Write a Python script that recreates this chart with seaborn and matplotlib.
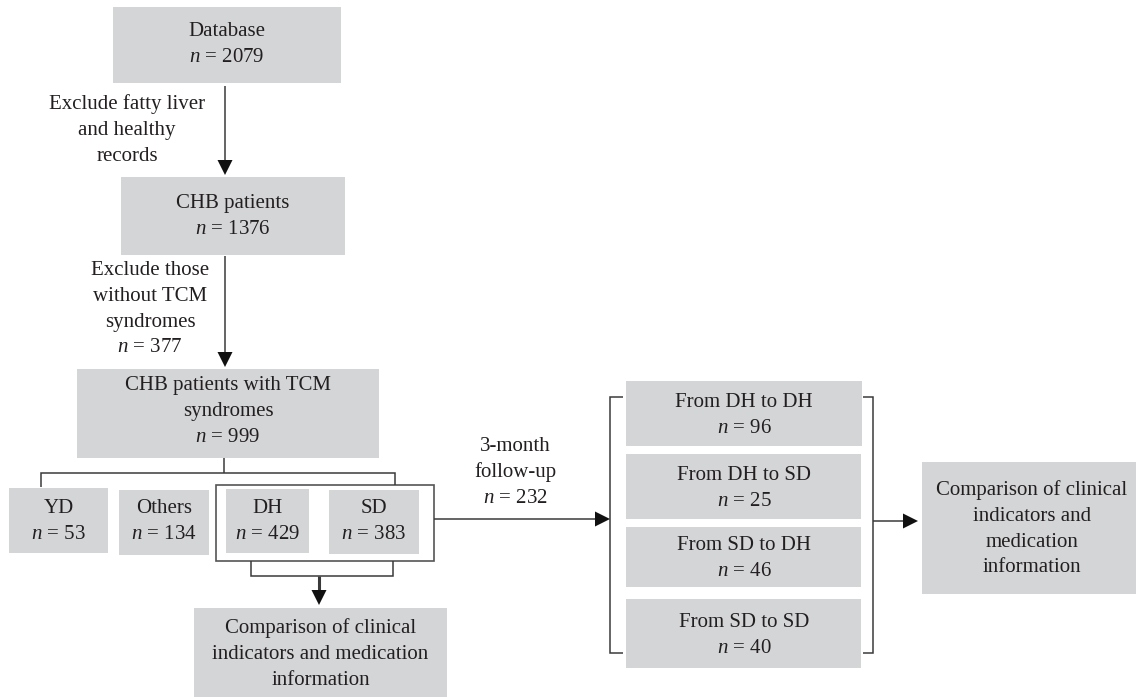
import matplotlib
matplotlib.use("Agg")
import matplotlib.pyplot as plt
import seaborn as sns
from matplotlib.patches import Rectangle

# ---------------- data ----------------
stage_labels = ["Database", "CHB patients", "CHB patients with TCM\nsyndromes"]
stage_n = [2079, 1376, 999]
exclusion_labels = ["Exclude fatty liver\nand healthy\nrecords", "Exclude those\nwithout TCM\nsyndromes"]
exclusion_n = [None, 377]
syndrome_labels = ["YD", "Others", "DH", "SD"]
syndrome_n = [53, 134, 429, 383]
followup_label = "3-month\nfollow-up"
followup_n = 232
transition_labels = ["From DH to DH", "From DH to SD", "From SD to DH", "From SD to SD"]
transition_n = [96, 25, 46, 40]
compare_left = "Comparison of clinical\nindicators and medication\ninformation"
compare_right = "Comparison of clinical\nindicators and\nmedication\ninformation"

# ---------------- style ----------------
sns.set_theme(style="white")
plt.rcParams["font.family"] = ["Liberation Serif", "DejaVu Serif"]
plt.rcParams["mathtext.fontset"] = "custom"
plt.rcParams["mathtext.rm"] = "Liberation Serif"
plt.rcParams["mathtext.it"] = "Liberation Serif:italic"

BOX = "#d4d5d7"
LINE = "#3a3a3a"
TXT = "#231f20"
FS = 15
LS = 25.8
LW = 1.1

fig = plt.figure(figsize=(11.36, 6.97), dpi=100)
ax = fig.add_axes([0, 0, 1, 1])
ax.set_xlim(0, 1136)
ax.set_ylim(697, 0)
ax.axis("off")


def box(x0, y0, x1, y1, fc=BOX, ec="none", lw=0):
    ax.add_patch(Rectangle((x0, y0), x1 - x0, y1 - y0, facecolor=fc,
                           edgecolor=ec, linewidth=lw, zorder=1))


def lines_text(label, n, cx, y_first):
    rows = label.split("\n") if label else []
    if n is not None:
        rows = rows + [r"$n$ = %d" % n]
    for i, r in enumerate(rows):
        ax.text(cx, y_first + i * LS, r, ha="center", va="baseline",
                fontsize=FS, color=TXT, zorder=3)


def seg(xs, ys, lw=LW):
    ax.plot(xs, ys, color=LINE, lw=lw, solid_capstyle="butt",
            solid_joinstyle="miter", zorder=2)


def arrow_down(x, y0, y1, lw=LW, hw=7.5, hl=15):
    seg([x, x], [y0, y1 - hl + 1], lw)
    ax.fill([x - hw, x + hw, x], [y1 - hl, y1 - hl, y1], color="#111111", zorder=3, lw=0)


def arrow_right(y, x0, x1, lw=LW, hw=7.5, hl=15):
    seg([x0, x1 - hl + 1], [y, y], lw)
    ax.fill([x1 - hl, x1 - hl, x1], [y - hw, y + hw, y], color="#111111", zorder=3, lw=0)


# ---------------- main column ----------------
stage_boxes = [(113, 7, 341, 83), (121, 177, 345, 255), (77, 369, 379, 458)]
stage_first = [36, 208, 390]
for (x0, y0, x1, y1), lab, n, yf in zip(stage_boxes, stage_labels, stage_n, stage_first):
    box(x0, y0, x1, y1)
    lines_text(lab, n, (x0 + x1) / 2, yf)

arrow_down(225, 86, 175)
arrow_down(225, 256, 367)
lines_text(exclusion_labels[0], exclusion_n[0], 127, 109)
lines_text(exclusion_labels[1], exclusion_n[1], 150, 275)

# split connector
seg([224, 224], [458, 473])
seg([41, 41, 395, 395], [487, 473, 473, 485])

# outer group box for DH / SD
box(216, 485, 434, 561, fc="white", ec="#555555", lw=1.2)
syn_boxes = [(9, 488, 108, 553), (119, 490, 209, 555), (226, 489, 309, 553), (329, 490, 419, 554)]
for (x0, y0, x1, y1), lab, n in zip(syn_boxes, syndrome_labels, syndrome_n):
    box(x0, y0, x1, y1)
    lines_text(lab, n, (x0 + x1) / 2, 513)

# bracket under DH/SD and arrow to comparison
seg([251, 251, 393, 393], [561, 576, 576, 561])
arrow_down(319, 576, 605, lw=2.2)
box(194, 608, 447, 705)
lines_text(compare_left, None, 320.5, 633)

# follow-up arrow
arrow_right(519, 434, 610)
lines_text(followup_label, followup_n, 515, 451)

# transition column
seg([623, 610, 610, 623], [397, 397, 653, 653])
seg([863, 873, 873, 863], [397, 397, 653, 653])
trans_boxes = [(626, 381, 862, 446), (626, 454, 861, 519), (626, 527, 861, 587), (626, 599, 861, 668)]
trans_first = [407, 480, 550, 627]
for (x0, y0, x1, y1), lab, n, yf in zip(trans_boxes, transition_labels, transition_n, trans_first):
    box(x0, y0, x1, y1)
    lines_text(lab, n, 744, yf)

arrow_right(521, 873, 918)
box(922, 462, 1142, 594)
lines_text(compare_right, None, 1032, 495)

fig.savefig("out.png", dpi=100, facecolor="white")
